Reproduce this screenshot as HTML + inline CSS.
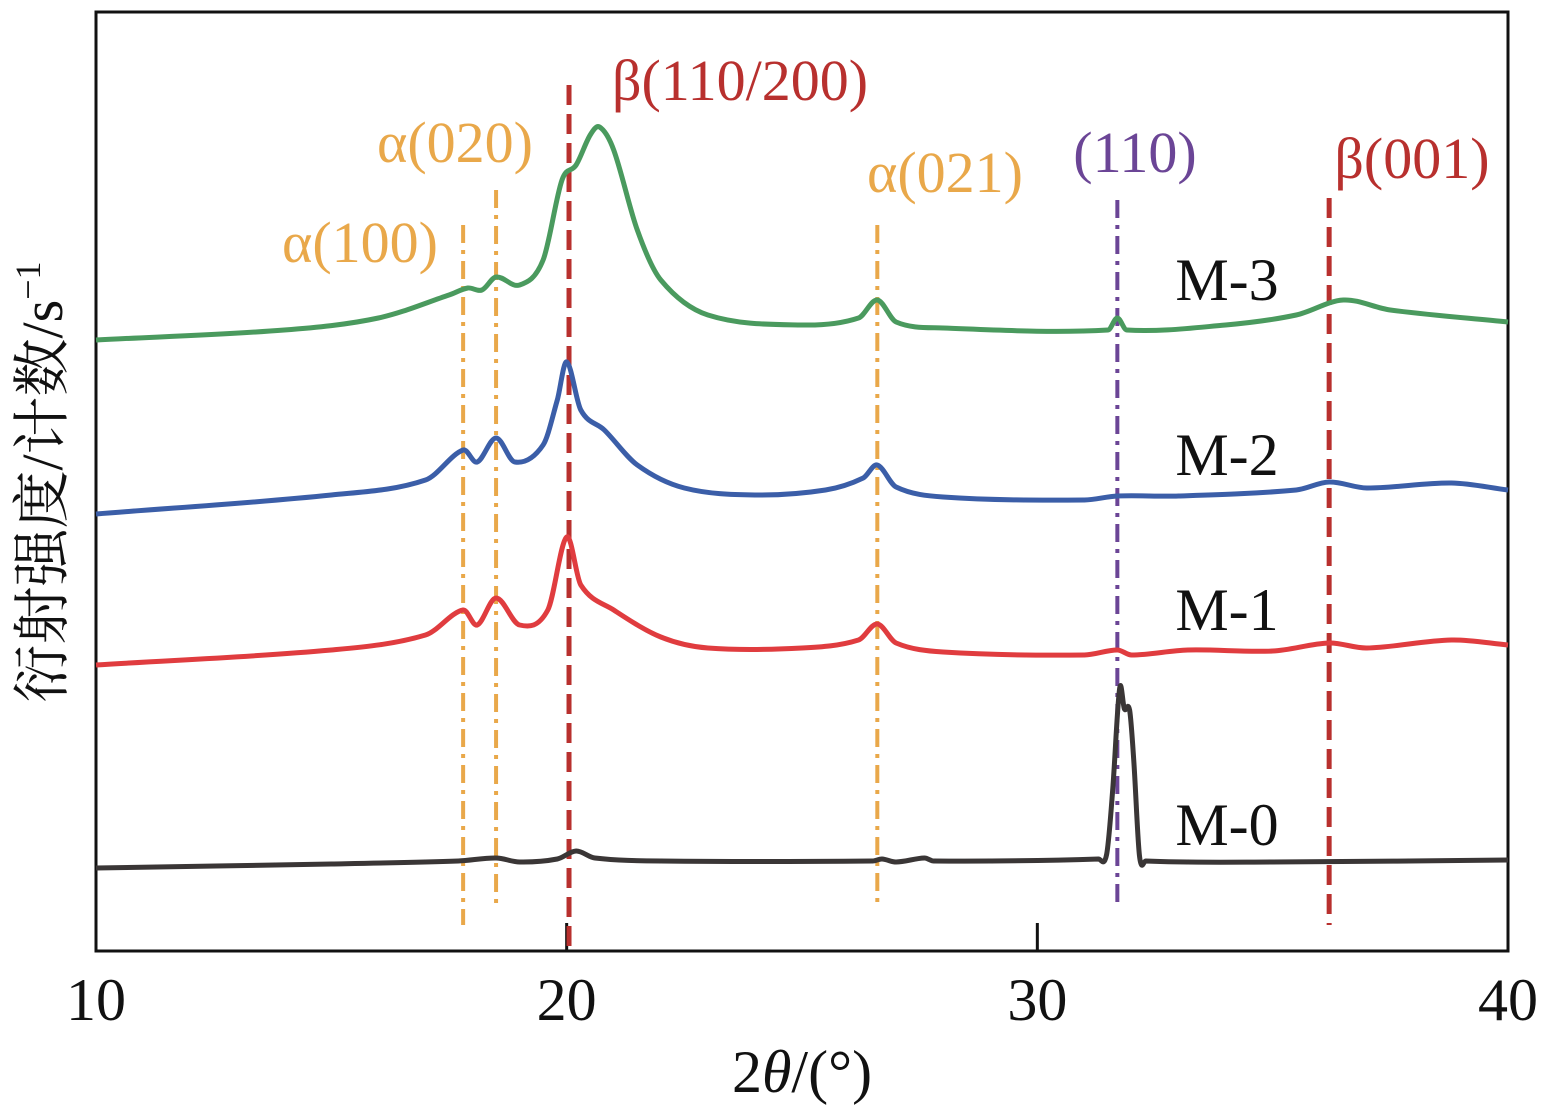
<!DOCTYPE html>
<html><head><meta charset="utf-8"><style>
html,body{margin:0;padding:0;background:#fff;}
svg{display:block;font-family:"Liberation Serif","Noto Serif CJK SC",serif;}
</style></head><body>
<svg id="chart" width="1550" height="1114">
<rect x="96" y="12" width="1412" height="939" fill="none" stroke="#111" stroke-width="3"/>
<g id="ticks"></g>
<g id="refs"></g>
<g id="series"></g>
<text x="802" y="1092" font-size="60" text-anchor="middle" fill="#111">2<tspan font-style="italic">θ</tspan>/(°)</text>
<text transform="translate(62,482) rotate(-90)" font-size="58" text-anchor="middle" fill="#111">衍射强度/计数/s<tspan font-size="36" dy="-22">−1</tspan></text>
</svg>
<script>
const xTicks=[10,20,30,40];
const refPos=[17.8,18.5,20.05,26.6,31.7,36.2];
const refLabels=["α(100)","α(020)","β(110/200)","α(021)","(110)","β(001)"];
const refTop=[726,761,866,726,751,753];
const refBottom=[26,41,0,46,46,26];
const refKinds=["orange","orange","red","orange","purple","red"];
const seriesNames=["M-0","M-1","M-2","M-3"];
const m0x=[10,15,17.7,18.5,19,19.8,20.2,20.6,22,26.5,26.7,27,27.6,27.8,31.3,31.47,31.6,31.75,31.85,31.96,32.05,32.17,32.3,35,40];
const m0y=[83,87,90,93,89,92,100,93,90,90,92,89,93,90,92,96,160,263,242,241,190,95,90,89,91];
const m1x=[10,15,17,17.8,18.1,18.5,19,19.6,20,20.3,21,22,23,25,26.2,26.6,27,28,31,31.7,32,33.2,35,36.2,37,38.8,40];
const m1y=[286,301,316,341,326,353,326,341,414,366,341,314,303,303,311,327,308,299,296,301,296,301,300,308,303,311,306];
const m2x=[10,15,17,17.8,18.1,18.5,18.9,19.5,19.8,20,20.3,20.8,21.5,22.5,24,25.5,26.3,26.6,27,28,31,31.7,33,35.5,36.2,37,38.8,40];
const m2y=[437,456,471,501,489,513,489,506,551,589,541,521,486,463,456,461,473,486,464,454,451,455,455,461,469,463,468,461];
const m3x=[10,14,16,17.5,17.9,18.2,18.5,19,19.5,19.9,20.2,20.5,20.7,21,21.5,22,23,25,26.2,26.6,27,28,31.5,31.7,31.9,34,35.5,36.5,37.5,40];
const m3y=[611,621,633,656,663,661,674,666,691,771,786,816,824,801,721,671,636,626,633,651,629,623,621,633,621,626,636,651,641,629];
const labelY=[845,630,475,300];
const xs=v=>96+(v-10)*(1412/30);
const ys=v=>951-v;
const NS="http://www.w3.org/2000/svg";
function mk(tag,attrs,parent){const e=document.createElementNS(NS,tag);for(const k in attrs)e.setAttribute(k,attrs[k]);parent.appendChild(e);return e;}
const tg=document.getElementById('ticks');
xTicks.forEach((t,i)=>{
 if(i>0&&i<xTicks.length-1){const l=mk('line',{x1:xs(t),x2:xs(t),y1:951,y2:923,stroke:'#111','stroke-width':3},tg);
 
 }
 const tx=mk('text',{x:xs(t),y:1020,'font-size':60,'text-anchor':'middle',fill:'#111'},tg);tx.textContent=t;
 
 
});
const cols={orange:'#e9a84a',red:'#b8302e',purple:'#6b4596'};
const rg=document.getElementById('refs');
const lblPos=[[360,262],[455,162],[740,100],[945,192],[1135,172],[1412,178]];
refPos.forEach((p,i)=>{
 const k=refKinds[i];
 const l=mk('line',{x1:xs(p),x2:xs(p),y1:ys(refTop[i]),y2:ys(refBottom[i]),stroke:cols[k],'stroke-width':k==='red'?5:4,'stroke-dasharray':k==='red'?'20,9':'18,7,4,7'},rg);
 
 
 const t=mk('text',{x:lblPos[i][0],y:lblPos[i][1],'font-size':58,'text-anchor':'middle',fill:cols[k]},rg);
 t.textContent=refLabels[i];
 
 
});
function smooth(P){
 let d='M'+P[0][0].toFixed(1)+','+P[0][1].toFixed(1);
 for(let i=0;i<P.length-1;i++){
  const p0=P[Math.max(0,i-1)],p1=P[i],p2=P[i+1],p3=P[Math.min(P.length-1,i+2)];
  const dx=p2[0]-p1[0];
  // monotone-ish tangents limited by segment width
  let m1=(p2[1]-p0[1])/Math.max(1e-6,p2[0]-p0[0]);
  let m2=(p3[1]-p1[1])/Math.max(1e-6,p3[0]-p1[0]);
  const c1x=p1[0]+dx/3,c1y=p1[1]+m1*dx/3;
  const c2x=p2[0]-dx/3,c2y=p2[1]-m2*dx/3;
  d+=' C'+c1x.toFixed(1)+','+c1y.toFixed(1)+' '+c2x.toFixed(1)+','+c2y.toFixed(1)+' '+p2[0].toFixed(1)+','+p2[1].toFixed(1);
 }
 return d;
}
const sg=document.getElementById('series');
const data=[[m0x,m0y,'#3a3636'],[m1x,m1y,'#e03c3f'],[m2x,m2y,'#3b5ea8'],[m3x,m3y,'#4a9a5e']];
data.forEach((d,i)=>{
 const P=d[0].map((x,j)=>[xs(x),ys(d[1][j])]);
 const pl=mk('path',{d:smooth(P),fill:'none',stroke:d[2],'stroke-width':5,'stroke-linejoin':'round'},sg);
 
 
 const t=mk('text',{x:1227,y:labelY[i],'font-size':60,'text-anchor':'middle',fill:'#111'},sg);
 t.textContent=seriesNames[i];
 
 
});
</script>
</body></html>
